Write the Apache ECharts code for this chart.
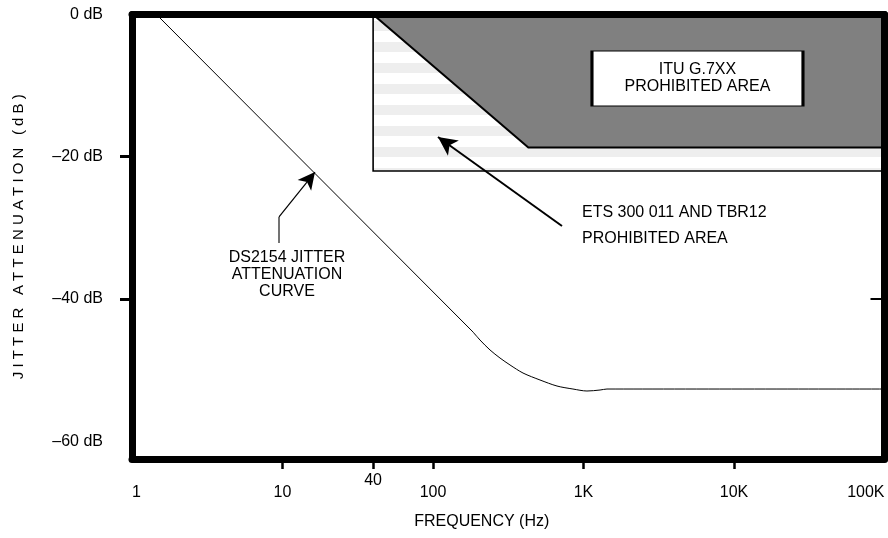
<!DOCTYPE html>
<html>
<head>
<meta charset="utf-8">
<script src="https://cdn.jsdelivr.net/npm/echarts@6/dist/echarts.min.js"></script>
<style>
  html, body { margin: 0; padding: 0; background: #fff; }
  #chart { width: 888px; height: 538px; }
</style>
</head>
<body>
<div id="chart"></div>
<script>
// DS2154 jitter attenuation curve: frequency (Hz) and attenuation (dB)
// Roll-off segment (straight on log axes)
const slopeFreq = [1.455, 184.4];
const slopeDb   = [0, -44.64];
// Knee and flat floor
const kneeFreq = [184.4, 205.3, 239.2, 278.7, 324.9, 396.3, 514, 666.8, 851.1, 1054, 1288, 1432, 100000];
const kneeDb   = [-44.64, -45.77, -47.17, -48.3, -49.28, -50.41, -51.39, -52.24, -52.66, -52.94, -52.8, -52.66, -52.66];

// Prohibited-area outlines as [frequency, dB] vertices
const etsMask = [[40, 0], [100000, 0], [100000, -22.0], [40, -22.0]];
const ituMask = [[40, 0], [100000, 0], [100000, -18.7], [430, -18.7]];

// Axis ticks and labels
const xLabelValues = [1, 10, 40, 100, 1000, 10000, 100000];
const xLabelText   = ['1', '10', '40', '100', '1K', '10K', '100K'];
const xRaisedLabel = ['40'];
const xTickValues  = [10, 40, 100, 1000, 10000];
const yLabelValues = [0, -20, -40, -60];
const yLabelText   = ['0 dB', '\u201320 dB', '\u201340 dB', '\u201360 dB'];
const yTickValues  = [-20, -40];
const yRightTicks  = [-40];

// Annotation anchors in [frequency, dB]
const ituLabelAt = [5719, -9.0];
const etsLabelAt = [977, -29.74];
const dsLabelAt  = [10.71, -36.63];
const etsArrow   = [[719.6, -29.74], [107.9, -17.22]];
const dsLeader   = [[9.48, -32.13], [9.48, -28.47]];
const dsArrow    = [[9.48, -28.47], [16.44, -22.15]];

const FONT = 'Liberation Sans, Arial, sans-serif';
const FS = 16;

// Horizontal light-grey banding for the ETS area
const stripe = document.createElement('canvas');
stripe.width = 4; stripe.height = 21;
const sctx = stripe.getContext('2d');
sctx.fillStyle = '#ffffff'; sctx.fillRect(0, 0, 4, 21);
sctx.fillStyle = '#eeeeee'; sctx.fillRect(0, 0, 4, 10);

const masks = [
  { pts: etsMask, style: { fill: { image: stripe, repeat: 'repeat' }, stroke: '#000', lineWidth: 1.6 } },
  { pts: ituMask, style: { fill: '#808080', stroke: '#000', lineWidth: 2 } }
];

// Bottom labels: "40" sits one line higher than the decade labels
function xLabel(v) {
  for (let i = 0; i < xLabelValues.length; i++) {
    if (Math.abs(Math.log10(v) - Math.log10(xLabelValues[i])) < 1e-6) {
      const t = xLabelText[i];
      return xRaisedLabel.indexOf(t) >= 0 ? t : '\n' + t;
    }
  }
  return '';
}
function yLabel(v) {
  for (let i = 0; i < yLabelValues.length; i++) {
    if (Math.abs(v - yLabelValues[i]) < 1e-6) return yLabelText[i];
  }
  return '';
}

// Heavy frame drawn by the four axis lines
const frameLine = { show: true, onZero: false, lineStyle: { color: '#000', width: 7, cap: 'round' } };

const chart = echarts.init(document.getElementById('chart'), null, { renderer: 'canvas' });

chart.setOption({
  animation: false,
  backgroundColor: '#fff',
  textStyle: { fontFamily: FONT, color: '#000' },
  grid: { left: 132, right: 3.5, top: 14.5, bottom: 79, outerBoundsMode: 'none', containLabel: false },
  xAxis: [
    {
      type: 'log', logBase: 10, min: 1, max: 100000,
      position: 'bottom', z: 10,
      axisLine: frameLine,
      axisTick: { show: true, customValues: xTickValues, length: 10, lineStyle: { color: '#000', width: 2.5 } },
      axisLabel: { show: true, customValues: xLabelValues, formatter: xLabel, margin: 16, lineHeight: 12,
                   fontSize: FS, color: '#000', fontFamily: FONT,
                   alignMinLabel: 'left', alignMaxLabel: 'right', hideOverlap: false },
      splitLine: { show: false }, minorTick: { show: false },
      name: 'FREQUENCY (Hz)', nameLocation: 'middle', nameGap: 55,
      nameTextStyle: { fontSize: FS, color: '#000', fontFamily: FONT, padding: [0, 53, 0, 0] }
    },
    {
      type: 'log', logBase: 10, min: 1, max: 100000,
      position: 'top', z: 10,
      axisLine: frameLine, axisTick: { show: false }, axisLabel: { show: false },
      splitLine: { show: false }, minorTick: { show: false }
    }
  ],
  yAxis: [
    {
      type: 'value', min: -62.5, max: 0, position: 'left', z: 10,
      axisLine: frameLine,
      axisTick: { show: true, customValues: yTickValues, length: 12, lineStyle: { color: '#000', width: 3 } },
      axisLabel: { show: true, customValues: yLabelValues, formatter: yLabel, margin: 29,
                   fontSize: FS, color: '#000', fontFamily: FONT },
      splitLine: { show: false },
      name: 'J I T T E R   A T T E N U A T I O N   ( d B )',
      nameLocation: 'middle', nameRotate: 90, nameGap: 106,
      nameTextStyle: { fontSize: 15, color: '#000', fontFamily: FONT }
    },
    {
      type: 'value', min: -62.5, max: 0, position: 'right', z: 10,
      axisLine: frameLine,
      axisTick: { show: true, inside: true, customValues: yRightTicks, length: 14, lineStyle: { color: '#000', width: 2 } },
      axisLabel: { show: false }, splitLine: { show: false }
    }
  ],
  series: [
    {
      type: 'custom',
      name: 'masks',
      xAxisIndex: 0, yAxisIndex: 0,
      silent: true, z: 1,
      data: masks.map(m => m.pts[0]),
      encode: { x: 0, y: 1 },
      renderItem: function (params, api) {
        const m = masks[params.dataIndex];
        return {
          type: 'polygon',
          shape: { points: m.pts.map(p => api.coord(p)) },
          style: m.style
        };
      }
    },
    {
      type: 'line',
      name: 'DS2154 roll-off',
      xAxisIndex: 0, yAxisIndex: 0,
      z: 3, silent: true,
      data: slopeFreq.map((f, i) => [f, slopeDb[i]]),
      showSymbol: false, symbol: 'none',
      lineStyle: { color: '#000', width: 1 }
    },
    {
      type: 'line',
      name: 'DS2154 floor',
      xAxisIndex: 0, yAxisIndex: 0,
      z: 3, silent: true,
      data: kneeFreq.map((f, i) => [f, kneeDb[i]]),
      showSymbol: false, symbol: 'none',
      smooth: 0.3,
      lineStyle: { color: '#000', width: 1 },
      markLine: {
        silent: true, animation: false,
        symbol: ['none', 'arrow'], symbolSize: [14, 19],
        label: { show: false },
        data: [
          [{ coord: etsArrow[0], symbol: 'none' },
           { coord: etsArrow[1], lineStyle: { color: '#000', width: 2, type: 'solid' } }],
          [{ coord: dsLeader[0], symbol: 'none' },
           { coord: dsLeader[1], symbol: 'none', lineStyle: { color: '#444', width: 1.5, type: 'solid' } }],
          [{ coord: dsArrow[0], symbol: 'none' },
           { coord: dsArrow[1], symbolSize: [13, 17], lineStyle: { color: '#000', width: 1.2, type: 'solid' } }]
        ],
        lineStyle: { color: '#000', width: 2, type: 'solid' },
        itemStyle: { color: '#000' }
      },
      markPoint: {
        silent: true, animation: false,
        data: [
          {
            coord: ituLabelAt, symbol: 'rect', symbolSize: [211, 55],
            itemStyle: { color: '#fff', borderColor: '#000', borderWidth: 1.6 },
            label: { show: true, position: 'inside', formatter: 'ITU G.7XX\nPROHIBITED AREA',
                     color: '#000', fontSize: FS, lineHeight: 17, fontFamily: FONT }
          },
          {
            coord: etsLabelAt, symbol: 'circle', symbolSize: 1,
            itemStyle: { color: 'rgba(0,0,0,0)' },
            label: { show: true, position: 'inside', align: 'left', formatter: 'ETS 300 011 AND TBR12\nPROHIBITED AREA',
                     color: '#000', fontSize: FS, lineHeight: 26, fontFamily: FONT }
          },
          {
            coord: dsLabelAt, symbol: 'circle', symbolSize: 1,
            itemStyle: { color: 'rgba(0,0,0,0)' },
            label: { show: true, position: 'inside', formatter: 'DS2154 JITTER\nATTENUATION\nCURVE',
                     color: '#000', fontSize: FS, lineHeight: 17, fontFamily: FONT }
          }
        ]
      }
    }
  ]
});
</script>
</body>
</html>
